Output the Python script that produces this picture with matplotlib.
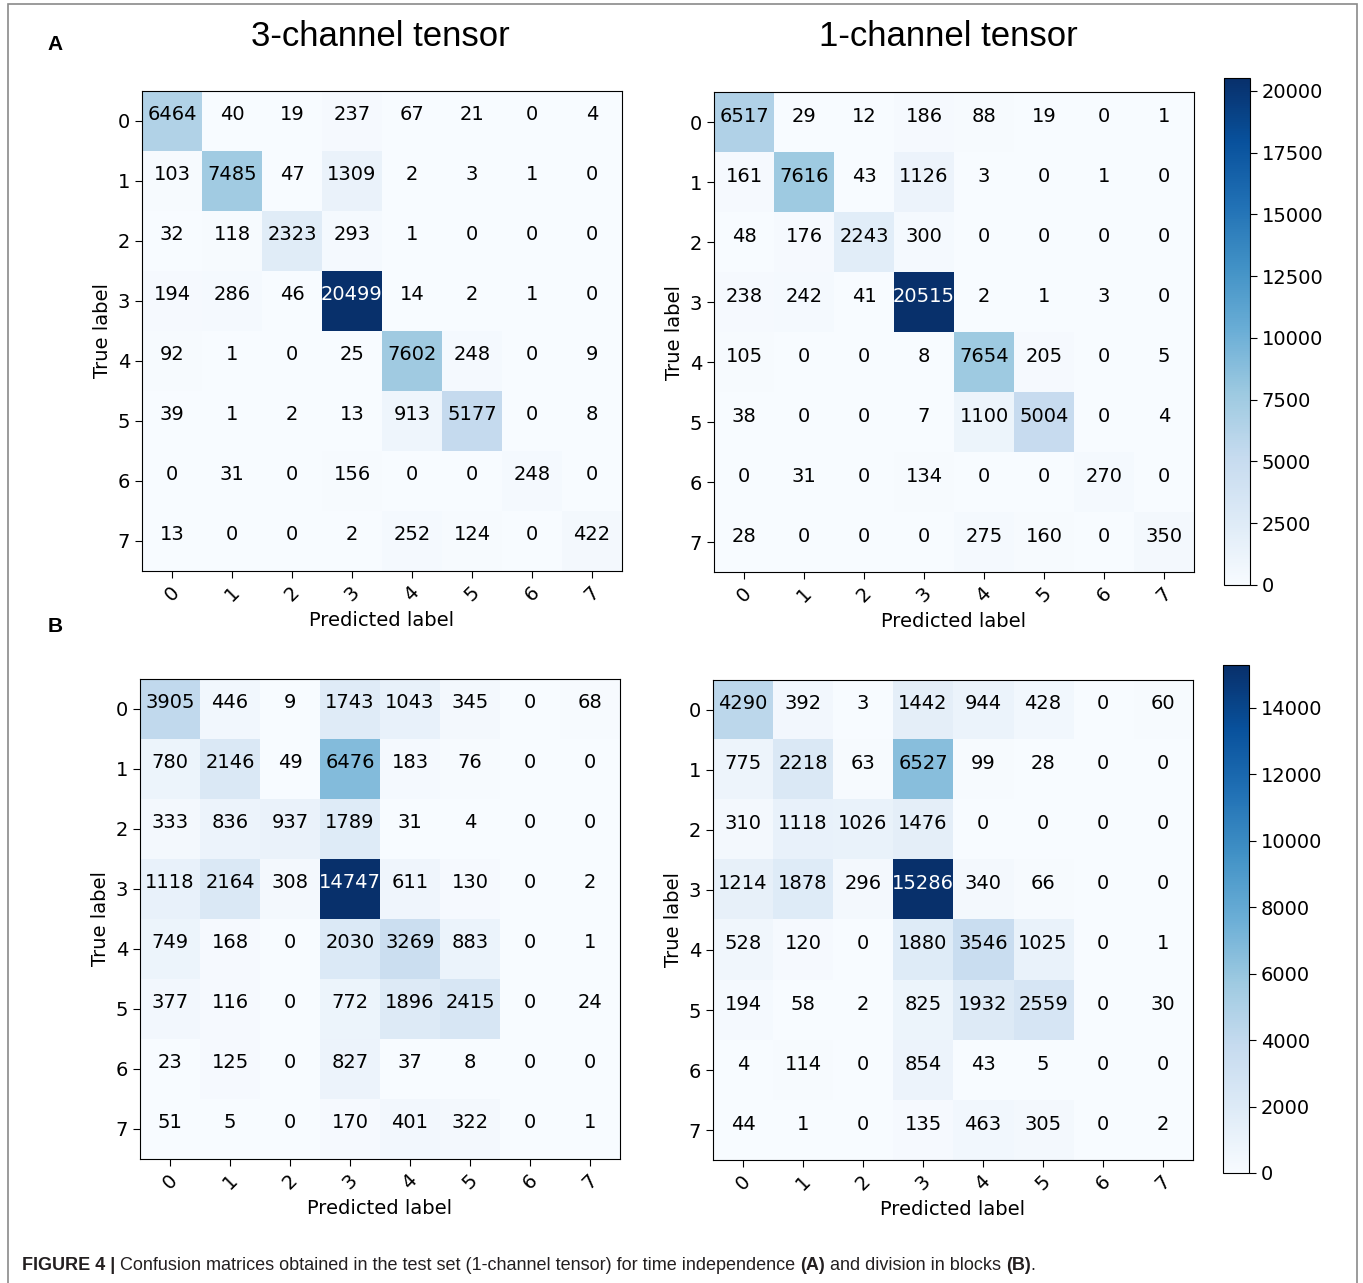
import matplotlib
matplotlib.use("Agg")
import matplotlib.pyplot as plt
import numpy as np
from matplotlib.patches import Rectangle

W, H = 1363, 1283

class_labels = [str(i) for i in range(8)]

cm_a_3ch = [
    [6464, 40, 19, 237, 67, 21, 0, 4],
    [103, 7485, 47, 1309, 2, 3, 1, 0],
    [32, 118, 2323, 293, 1, 0, 0, 0],
    [194, 286, 46, 20499, 14, 2, 1, 0],
    [92, 1, 0, 25, 7602, 248, 0, 9],
    [39, 1, 2, 13, 913, 5177, 0, 8],
    [0, 31, 0, 156, 0, 0, 248, 0],
    [13, 0, 0, 2, 252, 124, 0, 422],
]
cm_a_1ch = [
    [6517, 29, 12, 186, 88, 19, 0, 1],
    [161, 7616, 43, 1126, 3, 0, 1, 0],
    [48, 176, 2243, 300, 0, 0, 0, 0],
    [238, 242, 41, 20515, 2, 1, 3, 0],
    [105, 0, 0, 8, 7654, 205, 0, 5],
    [38, 0, 0, 7, 1100, 5004, 0, 4],
    [0, 31, 0, 134, 0, 0, 270, 0],
    [28, 0, 0, 0, 275, 160, 0, 350],
]
cm_b_3ch = [
    [3905, 446, 9, 1743, 1043, 345, 0, 68],
    [780, 2146, 49, 6476, 183, 76, 0, 0],
    [333, 836, 937, 1789, 31, 4, 0, 0],
    [1118, 2164, 308, 14747, 611, 130, 0, 2],
    [749, 168, 0, 2030, 3269, 883, 0, 1],
    [377, 116, 0, 772, 1896, 2415, 0, 24],
    [23, 125, 0, 827, 37, 8, 0, 0],
    [51, 5, 0, 170, 401, 322, 0, 1],
]
cm_b_1ch = [
    [4290, 392, 3, 1442, 944, 428, 0, 60],
    [775, 2218, 63, 6527, 99, 28, 0, 0],
    [310, 1118, 1026, 1476, 0, 0, 0, 0],
    [1214, 1878, 296, 15286, 340, 66, 0, 0],
    [528, 120, 0, 1880, 3546, 1025, 0, 1],
    [194, 58, 2, 825, 1932, 2559, 0, 30],
    [4, 114, 0, 854, 43, 5, 0, 0],
    [44, 1, 0, 135, 463, 305, 0, 2],
]

titles = ["3-channel tensor", "1-channel tensor"]


def rect(x0, y0, x1, y1):
    return [x0 / W, 1 - y1 / H, (x1 - x0) / W, (y1 - y0) / H]


def plot_cm(ax, cm):
    cm = np.array(cm)
    im = ax.imshow(cm, cmap="Blues", interpolation="nearest", aspect="auto")
    thresh = (cm.max() + cm.min()) / 2
    for i in range(cm.shape[0]):
        for j in range(cm.shape[1]):
            color = "white" if cm[i, j] > thresh else "black"
            # labels sit a little above the cell centre in the original
            ax.text(j, i - 0.1, str(cm[i, j]), ha="center", va="center",
                    color=color, fontsize=14)
    ax.set_xticks(range(8))
    ax.set_yticks(range(8))
    ax.set_xticklabels(class_labels, rotation=45, fontsize=14)
    ax.set_yticklabels(class_labels, fontsize=14)
    ax.set_xlabel("Predicted label", fontsize=14)
    ax.set_ylabel("True label", fontsize=14)
    ax.tick_params(length=5)
    return im


fig = plt.figure(figsize=(W / 100, H / 100), dpi=100)

# outer frame
fig.patches.append(Rectangle((8 / W, -0.01), 1349 / W, 1.01 - 4 / H,
                             transform=fig.transFigure, fill=False,
                             edgecolor="#8a8a8a", linewidth=1.2))

ax1 = fig.add_axes(rect(142, 91, 622, 571))
plot_cm(ax1, cm_a_3ch)
ax2 = fig.add_axes(rect(714, 92, 1194, 572))
im2 = plot_cm(ax2, cm_a_1ch)
cax1 = fig.add_axes(rect(1224, 78, 1250, 585))
fig.colorbar(im2, cax=cax1).ax.tick_params(labelsize=14, length=5)

ax3 = fig.add_axes(rect(140, 679, 620, 1159))
plot_cm(ax3, cm_b_3ch)
ax4 = fig.add_axes(rect(713, 680, 1193, 1160))
im4 = plot_cm(ax4, cm_b_1ch)
cax2 = fig.add_axes(rect(1223, 665, 1249, 1173))
fig.colorbar(im4, cax=cax2).ax.tick_params(labelsize=14, length=5)

fig.text(380 / W, 1 - 36 / H, titles[0], ha="center", va="center",
         fontsize=25, family="Liberation Sans")
fig.text(948 / W, 1 - 36 / H, titles[1], ha="center", va="center",
         fontsize=25, family="Liberation Sans")
fig.text(55 / W, 1 - 45 / H, "A", ha="center", va="center",
         fontsize=15, fontweight="bold", family="Liberation Sans")
fig.text(55 / W, 1 - 627 / H, "B", ha="center", va="center",
         fontsize=15, fontweight="bold", family="Liberation Sans")

# caption with mixed weights
caption = [
    ("FIGURE 4 |", "bold"),
    (" Confusion matrices obtained in the test set (1-channel tensor) for time independence ", "normal"),
    ("(A)", "bold"),
    (" and division in blocks ", "normal"),
    ("(B)", "bold"),
    (".", "normal"),
]
fig.canvas.draw()
renderer = fig.canvas.get_renderer()
x = 22 / W
for part, weight in caption:
    t = fig.text(x, 1 - 1265 / H, part, ha="left", va="center", fontsize=13,
                 fontweight=weight, family="Liberation Sans",
                 color="#231f20")
    bb = t.get_window_extent(renderer)
    x += bb.width / W

fig.savefig("out.png", dpi=100)
